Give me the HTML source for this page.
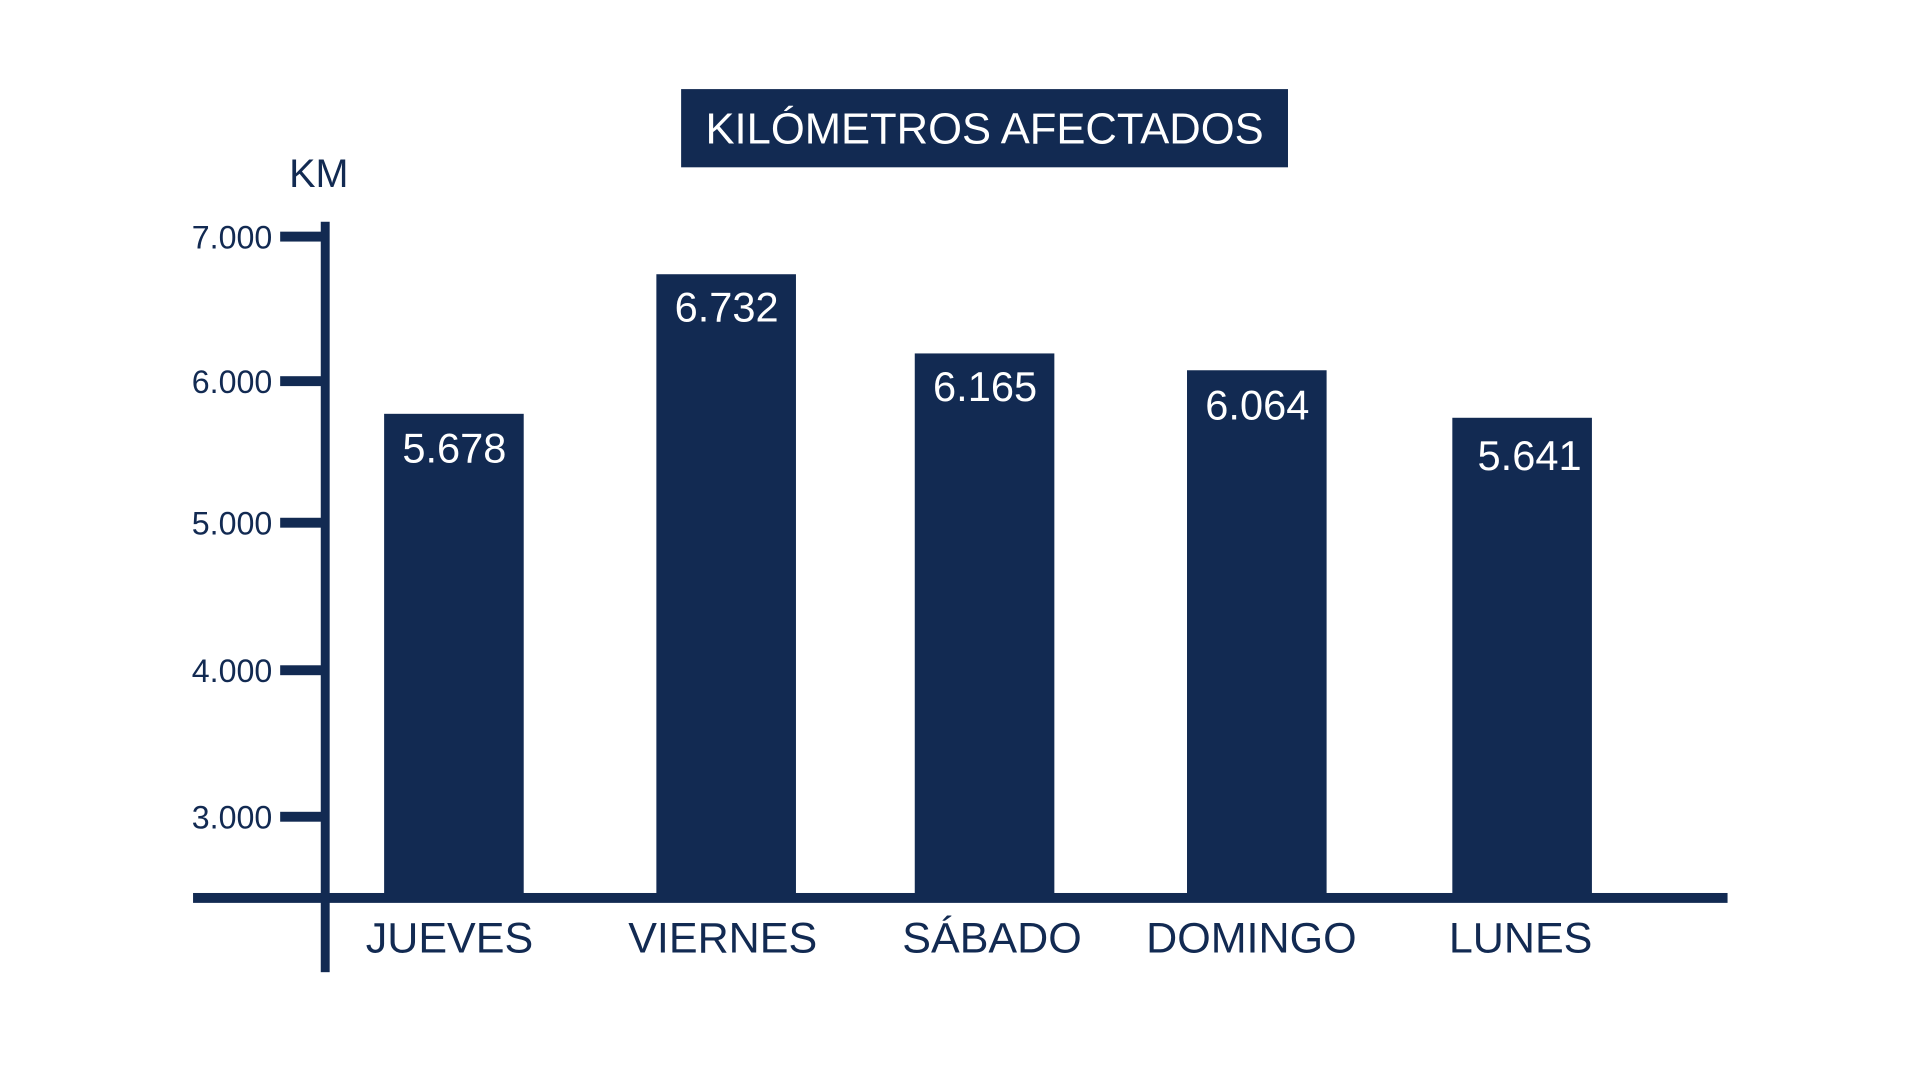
<!DOCTYPE html>
<html><head><meta charset="utf-8"><style>html,body{margin:0;padding:0;background:#fff}svg{display:block}</style></head><body>
<svg width="1920" height="1080" xmlns="http://www.w3.org/2000/svg" font-family="Liberation Sans, Arial, sans-serif">
<rect width="1920" height="1080" fill="#fff"/>
<g transform="scale(0.99)">
<rect x="688" y="90" width="613" height="79" fill="#122a52"/>
<text x="994.5" y="145" font-size="44" fill="#fff" text-anchor="middle">KILÓMETROS AFECTADOS</text>
<text x="292" y="189" font-size="40" fill="#122a52">KM</text>
<g fill="#122a52">
<rect x="388" y="418" width="141" height="489"/>
<rect x="663" y="277" width="141" height="630"/>
<rect x="924" y="357" width="141" height="550"/>
<rect x="1199" y="374" width="141" height="533"/>
<rect x="1467" y="422" width="141" height="485"/>
<rect x="324" y="224" width="9" height="758"/>
<rect x="195" y="902" width="1550" height="10"/>
<rect x="283" y="234" width="45" height="10"/>
<rect x="283" y="380" width="45" height="10"/>
<rect x="283" y="523" width="45" height="10"/>
<rect x="283" y="672" width="45" height="10"/>
<rect x="283" y="820" width="45" height="10"/>
</g>
<g font-size="32.5" fill="#122a52" text-anchor="end">
<text x="275" y="251">7.000</text>
<text x="275" y="397">6.000</text>
<text x="275" y="540">5.000</text>
<text x="275" y="689">4.000</text>
<text x="275" y="837">3.000</text>
</g>
<g font-size="42" fill="#fff" text-anchor="middle">
<text x="459" y="467">5.678</text>
<text x="734" y="325">6.732</text>
<text x="995" y="405">6.165</text>
<text x="1270" y="424">6.064</text>
<text x="1545" y="475">5.641</text>
</g>
<g font-size="43.5" fill="#122a52" text-anchor="middle">
<text x="454" y="962">JUEVES</text>
<text x="730" y="962">VIERNES</text>
<text x="1002" y="962">SÁBADO</text>
<text x="1264" y="962">DOMINGO</text>
<text x="1536" y="962">LUNES</text>
</g>
</g>
</svg>
</body></html>
